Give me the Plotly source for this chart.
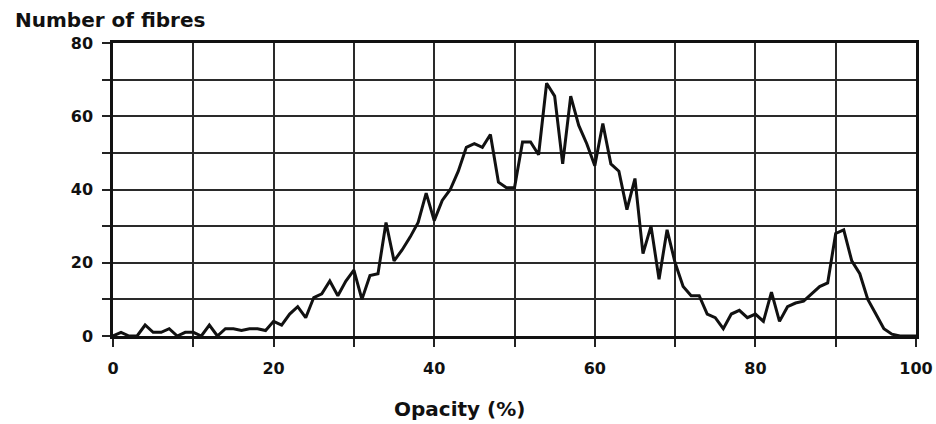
import plotly.graph_objects as go

# Opacity (%) bins and number of fibres
opacity = list(range(0, 101))
fibres = [
    0, 1, 0, 0, 3, 1, 1, 2, 0, 1,
    1, 0, 3, 0, 2, 2, 1.5, 2, 2, 1.5,
    4, 3, 6, 8, 5, 10.5, 11.5, 15, 11, 15,
    18, 10, 16.5, 17, 31, 20.5, 23.5, 27, 31, 39,
    31.5, 37, 40, 45, 51.5, 52.5, 51.5, 55, 42, 40.5,
    40.5, 53, 53, 49.5, 69, 65.5, 47, 65.5, 57.5, 52.5,
    46.5, 58, 47, 45, 34.5, 43, 22.5, 30, 15.5, 29,
    20, 13.5, 11, 11, 6, 5, 2, 6, 7, 5,
    6, 4, 12, 4, 8, 9, 9.5, 11.5, 13.5, 14.5,
    28, 29, 20.5, 17, 10, 6, 2, 0.5, 0, 0,
    0,
]

x_tickvals = list(range(0, 101, 10))
x_ticktext = ["0", "", "20", "", "40", "", "60", "", "80", "", "100"]
y_tickvals = list(range(0, 81, 10))
y_ticktext = ["0", "", "20", "", "40", "", "60", "", "80"]

FONT = "DejaVu Sans"

fig = go.Figure()
fig.add_trace(go.Scatter(
    x=opacity, y=fibres, mode="lines",
    line=dict(color="#111111", width=3),
    showlegend=False, hoverinfo="skip",
))

axis_common = dict(
    showgrid=True, gridcolor="#2a2a2a", gridwidth=2,
    showline=True, linecolor="#111111", linewidth=2.5, mirror=True,
    ticks="outside", ticklen=8, tickwidth=2, tickcolor="#222222",
    zeroline=False,
    tickfont=dict(family=FONT, size=16, color="#111111", weight="bold"),
)

fig.update_xaxes(range=[0, 100], tickmode="array", tickvals=x_tickvals,
                 ticktext=x_ticktext, ticklabelstandoff=8, **axis_common)
fig.update_yaxes(range=[0, 80], tickmode="array", tickvals=y_tickvals,
                 ticktext=y_ticktext, ticklabelstandoff=6, **axis_common)

fig.add_annotation(
    text="Number of fibres", xref="paper", yref="paper",
    x=(13 - 113) / 803, y=1 + (43 - 20) / 293,
    xanchor="left", yanchor="middle", showarrow=False,
    font=dict(family=FONT, size=20, color="#111111", weight="bold"),
)
fig.add_annotation(
    text="Opacity (%)", xref="paper", yref="paper",
    x=(459 - 113) / 803, y=(336 - 409) / 293,
    xanchor="center", yanchor="middle", showarrow=False,
    font=dict(family=FONT, size=20, color="#111111", weight="bold"),
)

fig.update_layout(
    width=936, height=424,
    margin=dict(l=113, r=20, t=43, b=88, autoexpand=False),
    paper_bgcolor="white", plot_bgcolor="white",
)

fig.write_html(
    "out.html",
    config={"displayModeBar": False},
    post_script="document.body.style.margin='0';document.body.style.overflow='hidden';",
)
